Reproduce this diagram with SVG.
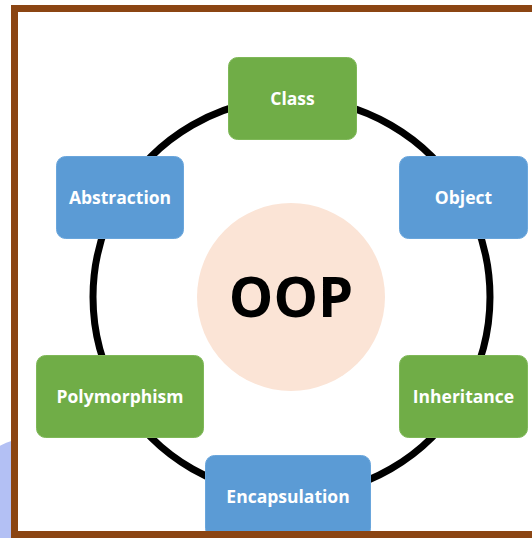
<svg xmlns="http://www.w3.org/2000/svg" width="532" height="538" viewBox="0 0 532 538">
  <style>
    .node rect { rx: 9px; ry: 9px; stroke-width: 1; }
    .green rect { fill: #70ad47; stroke: #7fb858; }
    .blue rect { fill: #5b9bd5; stroke: #6aa6dc; }
    .node text { font-family: "Open Sans", "Liberation Sans", sans-serif; font-weight: 700; font-size: 17.5px; fill: #ffffff; text-anchor: middle; }
    .ring { fill: none; stroke: #000000; stroke-width: 7; }
    .frame { fill: #8b4513; }
  </style>
  <rect x="0" y="0" width="532" height="538" fill="#ffffff"/>
  <circle cx="30" cy="500" r="62" fill="#b3c0f4"/>
  <rect x="11" y="5" width="521" height="533" fill="#ffffff"/>

  <g id="center">
    <circle cx="291" cy="297" r="94" fill="#fbe4d6"/>
    <text x="291" y="317" font-family="Open Sans, Liberation Sans, sans-serif" font-weight="700" font-size="56" fill="#000000" text-anchor="middle">OOP</text>
  </g>

  <g id="connectors">
    <path class="ring" d="M291.5 98.5 A198.5 198.5 0 0 1 463.4 197.75"/>
    <path class="ring" d="M463.4 197.75 A198.5 198.5 0 0 1 463.4 396.25"/>
    <path class="ring" d="M463.4 396.25 A198.5 198.5 0 0 1 291.5 495.5"/>
    <path class="ring" d="M291.5 495.5 A198.5 198.5 0 0 1 119.6 396.25"/>
    <path class="ring" d="M119.6 396.25 A198.5 198.5 0 0 1 119.6 197.75"/>
    <path class="ring" d="M119.6 197.75 A198.5 198.5 0 0 1 291.5 98.5"/>
  </g>

  <g id="class" class="node green">
    <rect x="228.5" y="57.5" width="128" height="82"/>
    <text x="292.5" y="104.5">Class</text>
  </g>
  <g id="object" class="node blue">
    <rect x="399.5" y="156.5" width="128" height="82"/>
    <text x="463.5" y="203.5">Object</text>
  </g>
  <g id="inheritance" class="node green">
    <rect x="399.5" y="355.5" width="128" height="82"/>
    <text x="463.5" y="402.5">Inheritance</text>
  </g>
  <g id="encapsulation" class="node blue">
    <rect x="205.5" y="455.5" width="165" height="82"/>
    <text x="288" y="502.5">Encapsulation</text>
  </g>
  <g id="polymorphism" class="node green">
    <rect x="36.5" y="355.5" width="167" height="82"/>
    <text x="120" y="402.5">Polymorphism</text>
  </g>
  <g id="abstraction" class="node blue">
    <rect x="56.5" y="156.5" width="127" height="82"/>
    <text x="120" y="203.5">Abstraction</text>
  </g>

  <g id="frame">
    <rect class="frame" x="11" y="5" width="521" height="7"/>
    <rect class="frame" x="11" y="5" width="7" height="533"/>
    <rect class="frame" x="11" y="531" width="521" height="7"/>
  </g>
</svg>
